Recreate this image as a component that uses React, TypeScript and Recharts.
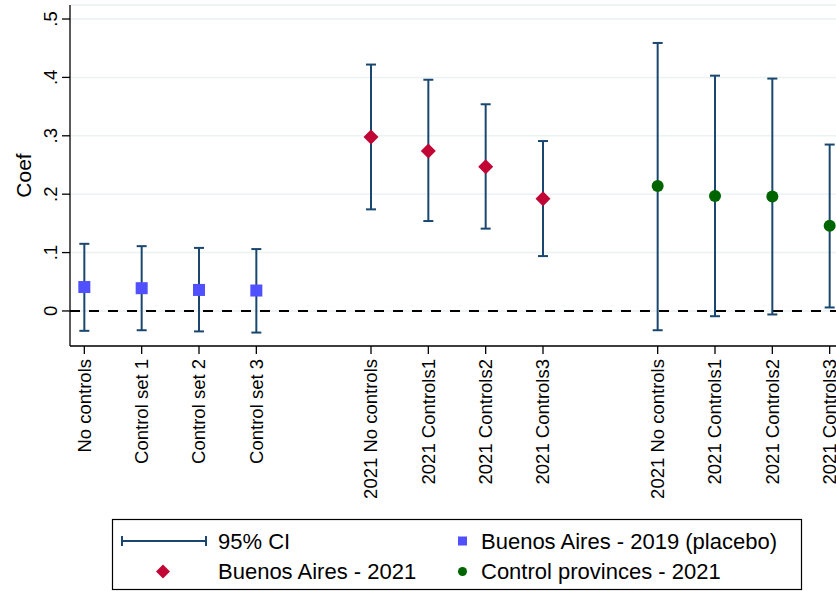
import { ScatterChart, Scatter, XAxis, YAxis, CartesianGrid, ErrorBar, ReferenceLine } from 'recharts';

// slot positions on the x axis (gaps at 4 and 9)
const slots = [0, 1, 2, 3, 5, 6, 7, 8, 10, 11, 12, 13];
const tickLabels = [
  'No controls', 'Control set 1', 'Control set 2', 'Control set 3',
  '2021 No controls', '2021 Controls1', '2021 Controls2', '2021 Controls3',
  '2021 No controls', '2021 Controls1', '2021 Controls2', '2021 Controls3',
];
const yTicks = [0, 0.1, 0.2, 0.3, 0.4, 0.5];

const placeboCoef = [0.041, 0.039, 0.036, 0.035];
const placeboLow = [-0.034, -0.033, -0.035, -0.037];
const placeboHigh = [0.115, 0.111, 0.108, 0.106];

const ba2021Coef = [0.298, 0.274, 0.247, 0.192];
const ba2021Low = [0.174, 0.154, 0.141, 0.094];
const ba2021High = [0.422, 0.396, 0.354, 0.291];

const ctrlCoef = [0.214, 0.197, 0.196, 0.146];
const ctrlLow = [-0.033, -0.009, -0.006, 0.006];
const ctrlHigh = [0.459, 0.403, 0.398, 0.285];

const FONT = '"Liberation Sans", Arial, sans-serif';
const CI_COLOR = '#1a476f';
const BLUE = '#5050ff';
const RED = '#c10534';
const GREEN = '#006400';

const build = (xs: number[], coef: number[], low: number[], high: number[]) =>
  coef.map((c, i) => ({ x: xs[i], y: c, err: [c - low[i], high[i] - c] }));

const placeboData = build(slots.slice(0, 4), placeboCoef, placeboLow, placeboHigh);
const ba2021Data = build(slots.slice(4, 8), ba2021Coef, ba2021Low, ba2021High);
const ctrlData = build(slots.slice(8, 12), ctrlCoef, ctrlLow, ctrlHigh);

const SquareShape = (p: any) => <rect x={p.cx - 6} y={p.cy - 6} width={12} height={12} fill={BLUE} />;
const DiamondShape = (p: any) => (
  <polygon
    points={`${p.cx},${p.cy - 7.5} ${p.cx + 7.5},${p.cy} ${p.cx},${p.cy + 7.5} ${p.cx - 7.5},${p.cy}`}
    fill={RED}
  />
);
const CircleShape = (p: any) => <circle cx={p.cx} cy={p.cy} r={6} fill={GREEN} />;

const XTick = ({ x, y, payload }: any) => {
  const idx = slots.indexOf(payload.value);
  return (
    <text
      x={x}
      y={y + 3}
      transform={`rotate(-90, ${x}, ${y + 3})`}
      textAnchor="end"
      dy="0.35em"
      fontSize={18.5}
      fontFamily={FONT}
      fill="#000"
    >
      {tickLabels[idx]}
    </text>
  );
};

const YTick = ({ x, y, payload }: any) => {
  const v = payload.value;
  const label = v === 0 ? '0' : v.toFixed(1).replace(/^0/, '');
  return (
    <text
      x={x - 3}
      y={y}
      transform={`rotate(-90, ${x - 3}, ${y})`}
      textAnchor="middle"
      fontSize={18.5}
      fontFamily={FONT}
      fill="#000"
    >
      {label}
    </text>
  );
};

function ChartLegend() {
  return (
    <svg
      width={836}
      height={591}
      style={{ position: 'absolute', left: 0, top: 0, pointerEvents: 'none' }}
      fontFamily={FONT}
    >
      <rect x={112.5} y={519.5} width={689} height={70} fill="#fff" stroke="#000" strokeWidth={1.2} />
      <line x1={122} y1={541} x2={206} y2={541} stroke={CI_COLOR} strokeWidth={2} />
      <line x1={122} y1={536} x2={122} y2={546} stroke={CI_COLOR} strokeWidth={2} />
      <line x1={206} y1={536} x2={206} y2={546} stroke={CI_COLOR} strokeWidth={2} />
      <text x={218} y={541} dy="0.35em" fontSize={22}>95% CI</text>
      <polygon points="163,564.5 170,571.5 163,578.5 156,571.5" fill={RED} />
      <text x={218} y={571.5} dy="0.35em" fontSize={22}>Buenos Aires - 2021</text>
      <rect x={458} y={536.5} width={9} height={9} fill={BLUE} />
      <text x={481} y={541} dy="0.35em" fontSize={22}>Buenos Aires - 2019 (placebo)</text>
      <circle cx={462.5} cy={571.5} r={4.5} fill={GREEN} />
      <text x={481} y={571.5} dy="0.35em" fontSize={22}>Control provinces - 2021</text>
    </svg>
  );
}

export default function App() {
  return (
    <div style={{ position: 'fixed', left: 0, top: 0, width: 836, height: 591, overflow: 'hidden', background: '#fff' }}>
      <ScatterChart width={860} height={591} margin={{ top: 5, right: 16, left: 0, bottom: 215 }}>
        <CartesianGrid vertical={false} stroke="#eaf2f3" strokeWidth={1.5} />
        <XAxis
          type="number"
          dataKey="x"
          domain={[-0.25, 13.25]}
          ticks={slots}
          interval={0}
          height={30}
          tick={<XTick />}
          tickSize={8}
          stroke="#000"
          axisLine={{ stroke: '#000', strokeWidth: 1.3 }}
          tickLine={{ stroke: '#000', strokeWidth: 1.3 }}
        />
        <YAxis
          type="number"
          dataKey="y"
          domain={[-0.06, 0.524]}
          ticks={yTicks}
          width={70}
          tick={<YTick />}
          tickSize={8}
          axisLine={{ stroke: '#000', strokeWidth: 1.3 }}
          tickLine={{ stroke: '#000', strokeWidth: 1.3 }}
          label={{
            content: () => (
              <text
                x={23.5}
                y={175.5}
                transform="rotate(-90, 23.5, 175.5)"
                textAnchor="middle"
                dy="0.35em"
                fontSize={21}
                fontFamily={FONT}
                fill="#000"
              >
                Coef
              </text>
            ),
          }}
        />
        <ReferenceLine y={0} stroke="#000" strokeWidth={2} strokeDasharray="10 9" />
        <Scatter data={placeboData} shape={SquareShape} isAnimationActive={false}>
          <ErrorBar dataKey="err" direction="y" width={5} stroke={CI_COLOR} strokeWidth={2} />
        </Scatter>
        <Scatter data={ba2021Data} shape={DiamondShape} isAnimationActive={false}>
          <ErrorBar dataKey="err" direction="y" width={5} stroke={CI_COLOR} strokeWidth={2} />
        </Scatter>
        <Scatter data={ctrlData} shape={CircleShape} isAnimationActive={false}>
          <ErrorBar dataKey="err" direction="y" width={5} stroke={CI_COLOR} strokeWidth={2} />
        </Scatter>
      </ScatterChart>
      <ChartLegend />
    </div>
  );
}
